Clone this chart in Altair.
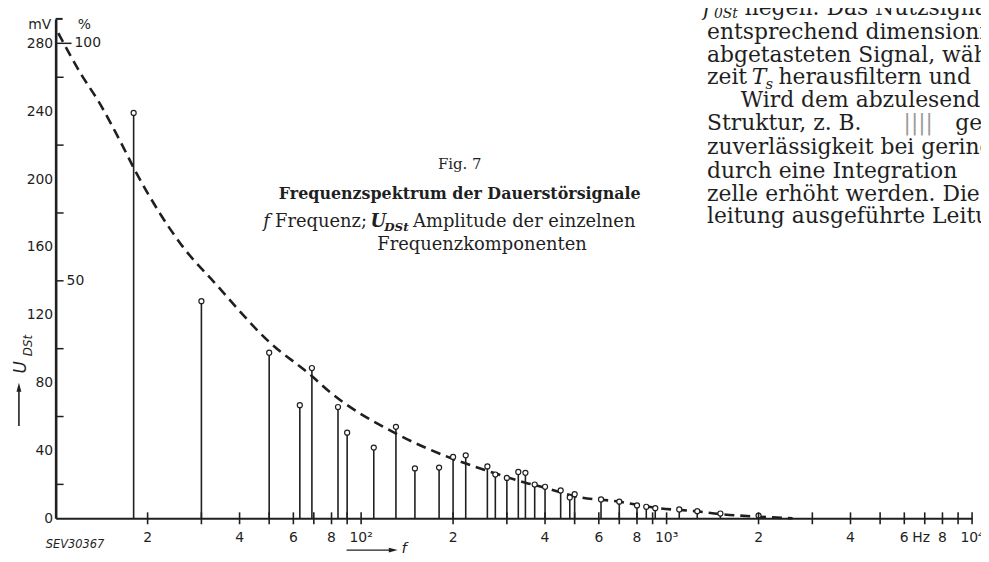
import altair as alt
import pandas as pd

# ---------------- values ----------------
stem_freq_hz = [18, 30, 50, 63, 69, 84, 90, 110, 130, 150, 180, 200, 220, 259, 275,
                300, 327, 345, 370, 400, 450, 482, 500, 610, 700, 800, 858, 918,
                1100, 1260, 1500, 2000]
stem_mv = [239, 128, 97.6, 66.7, 88.6, 65.6, 50.5, 41.7, 53.9, 29.4, 29.9, 36.2, 37.1,
           30.6, 25.8, 23.8, 27.3, 26.8, 19.9, 18.6, 16.4, 12.3, 14.2, 11.1, 9.8,
           7.6, 6.8, 6.0, 5.2, 4.2, 2.8, 1.6]

envelope_freq_hz = [10.2, 12.0, 14.0, 16.3, 18.2, 21.9, 26.1, 33.1, 50, 68.8, 78.3,
                    130, 200, 259, 345, 400, 500, 700, 917, 1260, 1500, 1984, 2584]
envelope_mv = [286, 263, 244, 222, 205, 180, 160, 139, 104, 84, 75,
               50, 35, 28, 21, 18, 13, 9.8, 6.2, 4.1, 2.5, 1.0, 0]

x_tick_hz = [20, 30, 40, 50, 60, 70, 80, 90, 100, 200, 300, 400, 500, 600, 700, 800,
             900, 1000, 2000, 3000, 4000, 5000, 6000, 7000, 8000, 9000, 10000]
x_label_hz = [20, 40, 60, 80, 100, 200, 400, 600, 800, 1000, 2000, 4000, 6000, 8000, 10000]
x_label_text = ["2", "4", "6", "8", "10²", "2", "4", "6", "8", "10³", "2", "4", "6", "8", "10⁴"]

y_label_mv = [0, 40, 80, 120, 160, 200, 240, 280]
y_minor_tick_mv = [20, 60, 100, 140, 180, 220, 260]
pct_mv = [280, 140]
pct_text = ["100", "50"]

# ---------------- layout / style ----------------
W, H = 923, 503
OX, OY = 56, 17          # page position of the plot origin (for annotations)
INK = "#1f1f1f"
SANS = "DejaVu Sans"
SERIF = "DejaVu Serif"

x_scale = alt.Scale(type="log", domain=[10, 10000], nice=False)
y_scale = alt.Scale(domain=[0, 294.4], nice=False, zero=False)

X = alt.X("f:Q", scale=x_scale,
          axis=alt.Axis(title=None, labels=False, ticks=False, grid=False,
                        domainColor=INK, domainWidth=2))
Y = alt.Y("u:Q", scale=y_scale,
          axis=alt.Axis(title=None, values=y_label_mv, ticks=False, grid=False,
                        domainColor=INK, domainWidth=2.6, labelFont=SANS,
                        labelFontSize=14, labelColor=INK, labelPadding=3))

stems_df = pd.DataFrame({"f": stem_freq_hz, "u": stem_mv})
env_df = pd.DataFrame({"f": envelope_freq_hz, "u": envelope_mv})
xt_df = pd.DataFrame({"f": x_tick_hz})
xl_df = pd.DataFrame({"f": x_label_hz, "t": x_label_text})
ymin_df = pd.DataFrame({"u": y_minor_tick_mv})
one = pd.DataFrame({"k": [0]})

layers = []

# stems
layers.append(alt.Chart(stems_df).mark_rule(color=INK, strokeWidth=1.6)
              .encode(x=X, y=Y, y2=alt.datum(0)))
# dashed envelope
layers.append(alt.Chart(env_df).mark_line(color=INK, strokeWidth=2.6, strokeDash=[10, 6],
                                          interpolate="monotone")
              .encode(x=X, y=Y))
# open circles
layers.append(alt.Chart(stems_df).mark_point(shape="circle", filled=True, fill="white",
                                             stroke=INK, strokeWidth=1.2, size=26, opacity=1)
              .encode(x=X, y=Y))
# x ticks crossing the axis
layers.append(alt.Chart(xt_df).mark_rule(color=INK, strokeWidth=1.6)
              .encode(x=X, y=alt.value(H - 6), y2=alt.value(H + 6)))
# x labels
layers.append(alt.Chart(xl_df).mark_text(font=SANS, fontSize=14, color=INK, baseline="middle")
              .encode(x=X, y=alt.value(H + 20), text="t:N"))
layers.append(alt.Chart(xl_df[xl_df["f"] == 6000]).mark_text(font=SANS, fontSize=14, color=INK,
                                                             baseline="middle", dx=17)
              .encode(x=X, y=alt.value(H + 20), text=alt.value("Hz")))
# y minor ticks (inside)
layers.append(alt.Chart(ymin_df).mark_rule(color=INK, strokeWidth=1.5)
              .encode(y=Y, x=alt.value(0), x2=alt.value(8)))
pct100 = pd.DataFrame({"u": [pct_mv[0]], "t": [pct_text[0]]})
pct50 = pd.DataFrame({"u": [pct_mv[1]], "t": [pct_text[1]]})
layers.append(alt.Chart(pct100).mark_rule(color=INK, strokeWidth=1.5)
              .encode(y=Y, x=alt.value(0), x2=alt.value(16)))
layers.append(alt.Chart(pct100).mark_text(font=SANS, fontSize=14, color=INK, align="left",
                                          baseline="middle")
              .encode(y=Y, x=alt.value(19), text="t:N"))
layers.append(alt.Chart(pct50).mark_text(font=SANS, fontSize=14, color=INK, align="left",
                                         baseline="middle")
              .encode(y=Y, x=alt.value(11), text="t:N"))
# top bracket of the y axis
layers.append(alt.Chart(one).mark_rule(color=INK, strokeWidth=2)
              .encode(y=alt.value(0), x=alt.value(0), x2=alt.value(7)))


def txt(s, x, y, size, font=SERIF, style="normal", weight="normal", align="left",
        angle=0, color=INK):
    m = dict(font=font, fontSize=size, fontStyle=style, fontWeight=weight, align=align,
             baseline="middle", color=color)
    if angle:
        m["angle"] = angle
    return (alt.Chart(one).mark_text(**m)
            .encode(x=alt.value(x - OX), y=alt.value(y - OY), text=alt.value(s)))


# axis headers
layers.append(txt("mV", 40, 23, 14, font=SANS, align="center"))
layers.append(txt("%", 85, 23, 14, font=SANS, align="center"))

# y title U_DSt with arrow
layers.append(txt("U", 21, 368, 17, font=SANS, style="italic", align="center", angle=270))
layers.append(txt("DSt", 28, 346, 12, font=SANS, style="italic", align="center", angle=270))
layers.append(alt.Chart(one).mark_rule(color=INK, strokeWidth=1.6)
              .encode(x=alt.value(19 - OX), y=alt.value(388 - OY), y2=alt.value(427 - OY)))
layers.append(alt.Chart(one).mark_point(shape="M0,-1L0.55,1L-0.55,1Z", filled=True,
                                        color=INK, size=80, opacity=1)
              .encode(x=alt.value(19 - OX), y=alt.value(388 - OY)))

# x title arrow -> f
layers.append(alt.Chart(one).mark_rule(color=INK, strokeWidth=1.4)
              .encode(x=alt.value(349 - OX), x2=alt.value(394 - OX), y=alt.value(552 - OY)))
layers.append(alt.Chart(one).mark_point(shape="M1,0L-1,-0.55L-1,0.55Z", filled=True,
                                        color=INK, size=80, opacity=1)
              .encode(x=alt.value(396 - OX), y=alt.value(552 - OY)))
layers.append(txt("f", 407, 550, 15, font=SANS, style="italic", align="center"))

layers.append(txt("SEV30367", 46, 547, 11.5, font=SANS, style="italic"))

# figure caption
layers.append(txt("Fig. 7", 463, 163, 15, align="center"))
layers.append(txt("Frequenzspektrum der Dauerstörsignale", 463, 193, 16, weight="bold",
                  align="center"))
layers.append(txt("f", 265, 222, 18, style="italic"))
layers.append(txt("Frequenz;", 277, 222, 18))
layers.append(txt("U", 373, 222, 18, style="italic", weight="bold"))
layers.append(txt("DSt", 387, 227, 12, style="italic", weight="bold"))
layers.append(txt("Amplitude der einzelnen", 416, 222, 18))
layers.append(txt("Frequenzkomponenten", 380, 245, 18))

# running text of the page on the right
BODY = 22
layers.append(txt("f", 708, 6, BODY, style="italic"))
layers.append(txt("0St", 719, 12, 14, style="italic"))
layers.append(txt("liegen. Das Nutzsignal", 750, 6, BODY))
layers.append(txt("entsprechend  dimensioniert", 712, 30, BODY))
layers.append(txt("abgetasteten Signal, während", 712, 53, BODY))
layers.append(txt("zeit", 712, 76, BODY))
layers.append(txt("T", 757, 76, BODY, style="italic"))
layers.append(txt("s", 771, 83, 15, style="italic"))
layers.append(txt("herausfiltern und", 784, 76, BODY))
layers.append(txt("Wird  dem  abzulesenden", 746, 99, BODY))
layers.append(txt("Struktur,  z. B.", 712, 122, BODY))
layers.append(txt("||||", 910, 122, BODY, color="#9a9a9a"))
layers.append(txt("gewählt", 962, 122, BODY))
layers.append(txt("zuverlässigkeit  bei  geringem", 712, 146, BODY))
layers.append(txt("durch  eine  Integration", 712, 170, BODY))
layers.append(txt("zelle erhöht werden. Die", 712, 193, BODY))
layers.append(txt("leitung   ausgeführte   Leitung", 712, 216, BODY))

chart = (alt.layer(*layers)
         .properties(width=W, height=H,
                     padding={"left": 48, "top": 9, "right": 9, "bottom": 38},
                     autosize=alt.AutoSizeParams(type="none"),
                     background="white")
         .configure_view(stroke=None))

chart.save("out.html", embed_options={"renderer": "svg", "actions": False})
